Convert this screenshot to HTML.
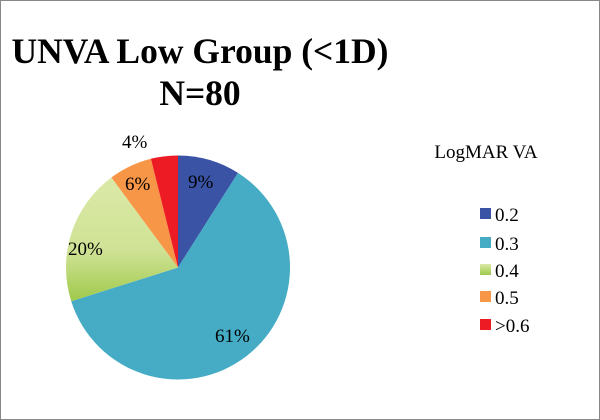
<!DOCTYPE html>
<html><head><style>
body{margin:0;background:#fff}
svg{display:block}
text{font-family:"Liberation Serif",serif;fill:#000}
</style></head><body>
<svg width="600" height="420" viewBox="0 0 600 420">
<defs>
<linearGradient id="g" x1="0" y1="0" x2="0" y2="1">
<stop offset="0" stop-color="#dbe9a8"/><stop offset="0.6" stop-color="#cfe294"/><stop offset="1" stop-color="#9fc94b"/>
</linearGradient>
<linearGradient id="lg" x1="0" y1="0" x2="0" y2="1">
<stop offset="0" stop-color="#dbe9a8"/><stop offset="1" stop-color="#9fc94b"/>
</linearGradient>
</defs>
<rect x="0.5" y="0.5" width="599" height="419" fill="#fff" stroke="#888"/>
<text x="200" y="63" font-size="35.5" font-weight="bold" text-anchor="middle">UNVA Low Group (&lt;1D)</text>
<text x="200" y="105" font-size="35.5" font-weight="bold" text-anchor="middle">N=80</text>
<g>
<path d="M178,267.5 L178,155.5 A112,112 0 0 1 238,172.9 Z" fill="#3a53a4"/>
<path d="M178,267.5 L238,172.9 A112,112 0 1 1 71.2,301.2 Z" fill="#46acc6"/>
<path d="M178,267.5 L71.2,301.2 A112,112 0 0 1 111.4,177.5 Z" fill="url(#g)"/>
<path d="M178,267.5 L111.4,177.5 A112,112 0 0 1 150.9,158.8 Z" fill="#f79646"/>
<path d="M178,267.5 L150.9,158.8 A112,112 0 0 1 178,155.5 Z" fill="#ed1c24"/>
</g>
<g font-size="19">
<text x="188" y="188">9%</text>
<text x="125" y="190">6%</text>
<text x="68" y="255">20%</text>
<text x="215" y="342">61%</text>
<text x="122" y="148">4%</text>
</g>
<text x="486" y="158" font-size="19" text-anchor="middle">LogMAR VA</text>
<g font-size="19">
<rect x="480" y="208" width="11" height="11" fill="#3a53a4"/><text x="495" y="221">0.2</text>
<rect x="480" y="237" width="11" height="11" fill="#46acc6"/><text x="495" y="250">0.3</text>
<rect x="480" y="264" width="11" height="11" fill="url(#lg)"/><text x="495" y="277">0.4</text>
<rect x="480" y="291" width="11" height="11" fill="#f79646"/><text x="495" y="304">0.5</text>
<rect x="480" y="319" width="11" height="11" fill="#ed1c24"/><text x="495" y="332">&gt;0.6</text>
</g>
</svg>
</body></html>
